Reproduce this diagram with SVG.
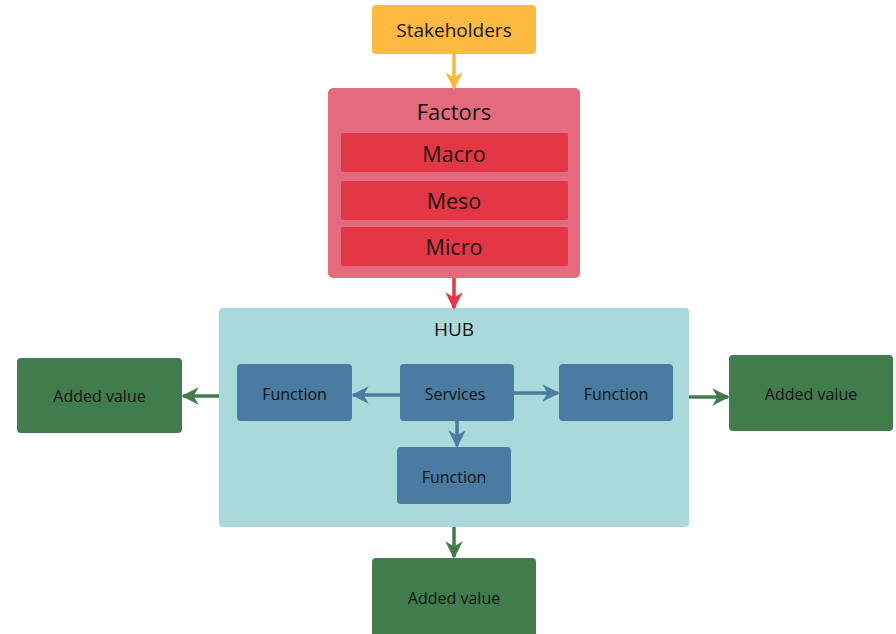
<svg xmlns="http://www.w3.org/2000/svg" width="896" height="634" viewBox="0 0 896 634">
<defs>
<style>
text{font-family:"Open Sans","Noto Sans","Liberation Sans",sans-serif;fill:#141414;text-anchor:middle;dominant-baseline:central}
.fn{fill:#4a7ba0}
.av{fill:#417c4d}
.bar{fill:#e43745}
.t16{font-size:16px}
.line{fill:none;stroke-width:3.5}
</style>
<marker id="ay" viewBox="0 0 10 10" refX="9" refY="5" markerWidth="5" markerHeight="5" markerUnits="strokeWidth" orient="auto"><path d="M0,0 L10,5 L0,10 L3,5 z" fill="#f9b938"/></marker>
<marker id="ar" viewBox="0 0 10 10" refX="9" refY="5" markerWidth="5" markerHeight="5" markerUnits="strokeWidth" orient="auto"><path d="M0,0 L10,5 L0,10 L3,5 z" fill="#e43745"/></marker>
<marker id="ab" viewBox="0 0 10 10" refX="9" refY="5" markerWidth="5" markerHeight="5" markerUnits="strokeWidth" orient="auto"><path d="M0,0 L10,5 L0,10 L3,5 z" fill="#4a7ba0"/></marker>
<marker id="ag" viewBox="0 0 10 10" refX="9" refY="5" markerWidth="5" markerHeight="5" markerUnits="strokeWidth" orient="auto"><path d="M0,0 L10,5 L0,10 L3,5 z" fill="#417c4d"/></marker>
</defs>
<rect width="896" height="634" fill="#ffffff"/>

<g id="stakeholders">
<rect x="372" y="5" width="164" height="49" rx="4" fill="#fdb940"/>
<text x="454" y="30" font-size="19">Stakeholders</text>
</g>

<g id="factors">
<rect x="328" y="88" width="252" height="190" rx="5" fill="#e46b7d"/>
<text x="454" y="111" font-size="22">Factors</text>
<rect class="bar" x="341" y="133" width="227" height="39" rx="2"/>
<text x="454" y="153" font-size="21.5">Macro</text>
<rect class="bar" x="341" y="181" width="227" height="39" rx="2"/>
<text x="454" y="200" font-size="21.5">Meso</text>
<rect class="bar" x="341" y="227" width="227" height="39" rx="2"/>
<text x="454" y="246" font-size="21.5">Micro</text>
</g>

<g id="hub">
<rect x="219" y="308" width="470" height="219" rx="4" fill="#a9d9db"/>
<text x="454" y="329" font-size="19">HUB</text>
</g>

<g id="function-left">
<rect class="fn" x="237" y="364" width="115" height="57" rx="4"/>
<text class="t16" x="294.5" y="394">Function</text>
</g>
<g id="services">
<rect class="fn" x="400" y="364" width="114" height="57" rx="4"/>
<text class="t16" x="455" y="394">Services</text>
</g>
<g id="function-right">
<rect class="fn" x="559" y="364" width="114" height="57" rx="4"/>
<text class="t16" x="616" y="394">Function</text>
</g>
<g id="function-bottom">
<rect class="fn" x="397" y="447" width="114" height="57" rx="4"/>
<text class="t16" x="454" y="477">Function</text>
</g>

<g id="added-left">
<rect class="av" x="17" y="358" width="165" height="75" rx="4"/>
<text class="t16" x="99.5" y="396">Added value</text>
</g>
<g id="added-right">
<rect class="av" x="729" y="355" width="164" height="76" rx="4"/>
<text class="t16" x="811" y="394">Added value</text>
</g>
<g id="added-bottom">
<rect class="av" x="372" y="558" width="164" height="80" rx="4"/>
<text class="t16" x="454" y="598">Added value</text>
</g>

<g id="connectors">
<line class="line" x1="454" y1="54" x2="454" y2="88" stroke="#f9b938" marker-end="url(#ay)"/>
<line class="line" x1="454" y1="278" x2="454" y2="308" stroke="#e43745" marker-end="url(#ar)"/>
<line class="line" x1="400" y1="395" x2="353" y2="395" stroke="#4a7ba0" marker-end="url(#ab)"/>
<line class="line" x1="514" y1="393" x2="558" y2="393" stroke="#4a7ba0" marker-end="url(#ab)"/>
<line class="line" x1="457" y1="421" x2="457" y2="446" stroke="#4a7ba0" marker-end="url(#ab)"/>
<line class="line" x1="219" y1="396" x2="183" y2="396" stroke="#417c4d" marker-end="url(#ag)"/>
<line class="line" x1="689" y1="397" x2="728" y2="397" stroke="#417c4d" marker-end="url(#ag)"/>
<line class="line" x1="454" y1="527" x2="454" y2="557" stroke="#417c4d" marker-end="url(#ag)"/>
</g>
</svg>
